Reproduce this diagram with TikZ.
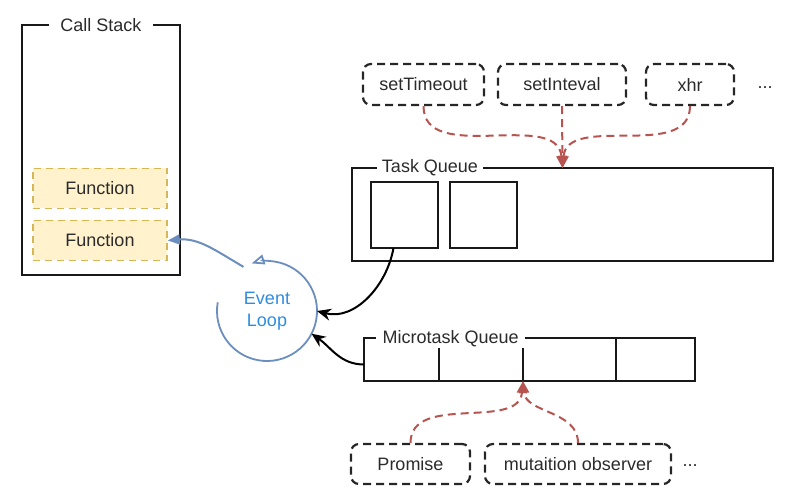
\documentclass[tikz,border=0pt]{standalone}
\usepackage{fontspec}
\setmainfont{Liberation Sans}
\usepackage{tikz}
\usetikzlibrary{positioning}
\usetikzlibrary{arrows.meta,shapes,calc}
\usepackage{xcolor}

\definecolor{txtgray}{HTML}{2B2B2B}
\definecolor{fnfill}{HTML}{FFF2CC}
\definecolor{fnline}{HTML}{D6B656}
\definecolor{srcred}{HTML}{B85450}
\definecolor{loopblue}{HTML}{6C8EBF}
\definecolor{evblue}{HTML}{2D8CE0}

\tikzset{
  every node/.style={font=\fontsize{18pt}{22pt}\selectfont, text=txtgray},
  stackbox/.style={draw=black!90, line width=2.2pt, outer sep=0pt},
  fnbox/.style={draw=fnline, fill=fnfill, line width=1.6pt, dash pattern=on 7pt off 5pt,
    minimum width=134pt, minimum height=40pt},
  apibox/.style={draw=black!85, line width=2.2pt, dash pattern=on 8pt off 5pt,
    rounded corners=8pt, minimum height=41pt},
  cellbox/.style={draw=black!90, line width=2.2pt, minimum height=43pt, outer sep=0pt},
  qlabel/.style={fill=white, inner ysep=1pt},
  srcarrow/.style={draw=srcred, line width=2pt, dash pattern=on 8pt off 5pt,
    -{Triangle[length=12pt,width=10pt]}},
  taskarrow/.style={draw=black, line width=2pt, -{Stealth[length=14pt,width=12pt]}},
  looparrow/.style={draw=loopblue, line width=1.8pt, -{Triangle[open,length=13pt,width=10pt]}},
  pusharrow/.style={draw=loopblue, line width=2pt, -{Triangle[length=12pt,width=10pt]}}
}

\begin{document}
\begin{tikzpicture}[x=1pt,y=1pt]
\useasboundingbox (0,0) rectangle (798,490);

% call stack
\node[stackbox, minimum width=158pt, minimum height=250pt] (stack) at (101,340) {};
\node[qlabel, inner xsep=11pt] (stacktitle) at (stack.north) {Call Stack};
\node[fnbox] (fn1) at (100,301.5) {Function};
\node[fnbox] (fn2) at (100,249.5) {Function};

% web apis
\node[apibox, minimum width=121pt] (st) at (423.5,405.5) {setTimeout};
\node[apibox, minimum width=128pt] (si) at (562,405.5) {setInteval};
\node[apibox, minimum width=88pt] (xhr) at (690,405.5) {xhr};
\node (apimore) at (765,402) {...};

% task queue
\node[cellbox, minimum width=421pt, minimum height=93pt] (tq) at (562.5,275.5) {};
\node[qlabel, inner xsep=5pt] (tqlabel) at (430,322) {Task Queue};
\node[cellbox, minimum width=67pt, minimum height=66pt] (tq1) at (404.5,275) {};
\node[cellbox, minimum width=67pt, minimum height=66pt] (tq2) at (483.5,275) {};

% microtask queue
\node[cellbox, minimum width=75pt] (mq1) at (401.5,130.5) {};
\node[cellbox, minimum width=84pt, right=0pt of mq1] (mq2) {};
\node[cellbox, minimum width=93pt, right=0pt of mq2] (mq3) {};
\node[cellbox, minimum width=79pt, right=0pt of mq3] (mq4) {};
\node[qlabel, anchor=west, inner xsep=0pt, minimum width=149pt] (mqlabel) at (376,151) {Microtask Queue};

\node[apibox, minimum width=119pt, minimum height=40pt] (pr) at (410.5,26) {Promise};
\node[apibox, minimum width=186pt, minimum height=40pt] (mo) at (578,26) {mutaition observer};
\node (micromore) at (690,24) {...};

% event loop
\node[circle, minimum size=100pt, inner sep=0pt, outer sep=0pt, align=center, text=evblue] (evloop) at (267,179) {Event\\Loop};
\draw[looparrow] (evloop.170) arc[start angle=170, end angle=468, radius=50pt];

% connectors
\draw[srcarrow] (st.south) to[out=-90, in=95] (tq.north);
\draw[srcarrow] (si.south) -- (tq.north);
\draw[srcarrow] (xhr.south) to[out=-90, in=85] (tq.north);

\draw[srcarrow] (pr.north) to[out=90, in=-95] (mq3.south west);
\draw[srcarrow] (mo.north) to[out=90, in=-85] (mq3.south west);

\draw[taskarrow] ([xshift=-11pt]tq1.south) to[out=-100, in=-15] (evloop.east);
\draw[taskarrow] ([yshift=-5pt]mq1.west) to[out=180, in=-35] (evloop.-27);
\draw[pusharrow] (evloop.118) to[out=150, in=5] (fn2.east);

\end{tikzpicture}
\end{document}
